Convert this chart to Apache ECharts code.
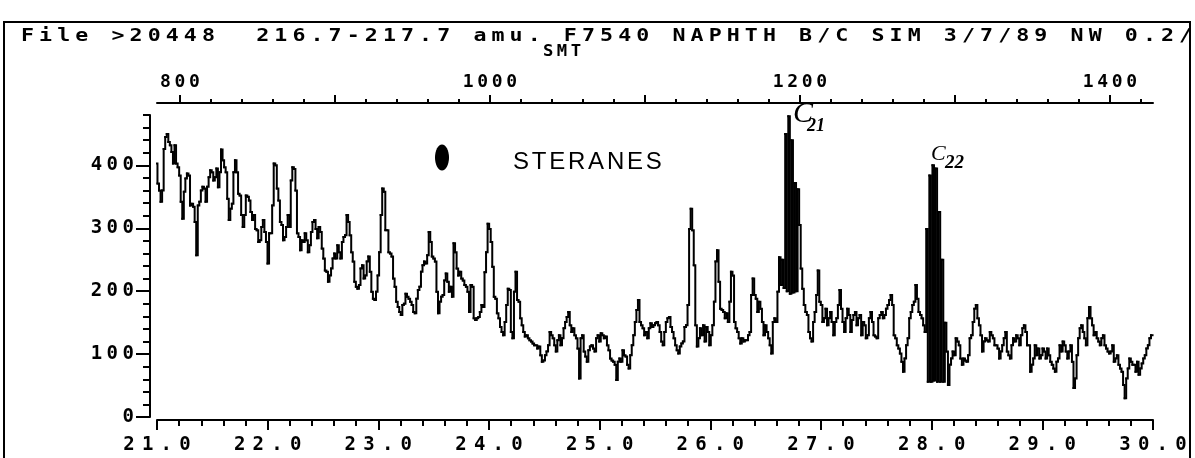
<!DOCTYPE html>
<html><head><meta charset="utf-8">
<script src="https://cdn.jsdelivr.net/npm/echarts@6/dist/echarts.min.js"></script>
<style>html,body{margin:0;padding:0;background:#fff}#c{width:1195px;height:458px}</style>
</head><body><div id="c"></div>
<script>
// ---- texts ----
const headerText = 'File >20448  216.7-217.7 amu. F7540 NAPHTH B/C SIM 3/7/89 NW 0.2/';
const subHeader = 'SMT';
const classLabel = 'STERANES';
const peakC21 = ['C', '21'];
const peakC22 = ['C', '22'];

// ---- axes ----
const timeRange = [21, 30];               // retention time, min
const scanRange = [785.2, 1427.8];        // scan numbers matching the time range
const scanLabels = [800, 1000, 1200, 1400];
const scanMajorTicks = [800, 900, 1000, 1100, 1200, 1300, 1400];
const scanMinorTicks = [820,840,860,880,920,940,960,980,1020,1040,1060,1080,1120,1140,1160,1180,1220,1240,1260,1280,1320,1340,1360,1380,1420];
const yLabels = [0, 100, 200, 300, 400];
const yMinorTicks = [20,40,60,80,120,140,160,180,220,240,260,280,320,340,360,380,420,440,460,480];
const yMax = 480;

// ---- abundance, one value per scan ----
const firstScan = 785;
const scans0785 = [403,371,360,342,360,426,445,450,437,432,
  421,403,432,403,397,384,342,315,358,379,
  387,384,336,339,334,310,257,336,342,360,
  366,363,342,366,381,392,389,376,381,395,
  365,389,425,408,397,389,347,313,331,339,
  389,408,389,355,352,321,302,321,352,350,
  344,326,313,321,299,297,278,281,302,313,
  294,278,244,292,292,336,403,400,363,344,
  310,305,281,286,302,321,302,376,397,394,
  360,292,286,265,281,278,292,281,262,273];
const scans0885 = [294,310,313,299,284,302,294,268,252,233,
  231,215,225,236,252,260,252,273,262,252,
  278,286,289,321,310,289,262,247,215,207,
  204,210,236,241,220,225,247,255,231,199,
  188,186,199,225,262,321,363,358,297,297,
  262,260,255,220,207,183,175,167,162,178,
  180,196,191,188,183,178,167,165,188,202,
  207,231,241,247,244,257,294,278,255,252,
  247,199,165,183,191,194,217,228,215,199,
  207,191,276,262,236,225,231,220,217,210];
const scans0985 = [207,199,167,210,207,157,154,157,159,167,
  178,175,230,262,307,299,278,239,191,188,
  165,157,143,135,130,151,178,204,202,135,
  125,199,231,186,183,157,146,135,128,130,
  125,122,120,117,114,114,109,112,98,88,
  90,98,104,114,135,130,125,114,104,122,
  130,114,125,141,151,159,167,146,135,141,
  130,125,109,61,125,130,104,96,88,106,
  112,114,109,104,125,130,120,133,130,125,
  128,114,106,93,90,88,83,59,88,93];
const scans1085 = [88,106,98,96,83,77,98,114,130,151,
  170,186,151,146,141,130,135,125,141,149,
  143,146,149,151,146,135,120,114,135,151,
  157,159,143,135,125,114,106,101,112,117,
  120,143,146,178,299,331,297,241,146,112,
  125,141,130,146,120,143,135,114,130,146,
  183,247,265,215,172,170,167,157,165,151,
  183,231,225,151,141,135,125,117,125,120,
  122,122,130,135,194,220,194,188,167,183,
  172,151,130,146,135,125,114,101,151,157];
const scans1185 = [151,199,254,210,250,205,450,200,478,196,
  440,198,372,200,362,305,236,204,178,167,
  162,135,125,120,151,167,194,233,183,178,
  151,157,172,146,157,167,151,130,151,157,
  178,202,172,151,135,157,172,162,135,154,
  162,167,146,157,162,130,151,146,125,130,
  157,167,151,130,128,125,157,162,167,157,
  162,172,178,186,194,178,130,125,114,109,
  101,88,72,93,114,125,157,167,178,183,
  210,188,167,162,157,146,135,299,56,384];
const scans1285 = [56,400,58,395,56,326,56,250,56,150,
  104,51,83,93,104,98,125,120,114,93,
  83,93,90,88,98,125,130,151,172,178,
  157,146,130,104,120,125,122,120,135,130,
  125,114,114,109,93,104,114,125,135,104,
  98,93,114,125,120,130,125,114,130,141,
  146,135,114,114,72,83,93,114,98,109,
  93,98,109,104,93,109,98,88,83,77,
  72,88,93,114,104,120,114,104,93,104,
  114,88,46,61,98,125,141,146,135,125];
const scans1385 = [114,157,175,157,146,130,135,125,120,114,
  125,130,114,109,104,101,104,114,88,93,
  98,83,77,72,51,30,61,77,93,88,
  83,83,72,88,67,77,85,93,98,109,
  114,125,130];

const abundance = [].concat(scans0785, scans0885, scans0985, scans1085, scans1185, scans1285, scans1385);
// one item per scan: [scan, value, value of next scan]
const seriesData = abundance.map((v, i) => [firstScan + i, v, i + 1 < abundance.length ? abundance[i + 1] : v]);

// ---- helpers ----
const MONO = 'DejaVu Sans Mono';
function spaced(str) {
  const parts = [];
  for (let i = 0; i < str.length; i++) {
    const ch = str[i] === ' ' ? '\u00a0' : str[i];
    parts.push('{g|' + ch + '}');
    if (i < str.length - 1) parts.push('{s|\u00a0}');
  }
  return parts.join('');
}
function richSet(gSize, sSize, family, weight) {
  const f = family || MONO;
  const w = weight || 'bold';
  return { g: { fontFamily: f, fontSize: gSize, fontWeight: w, color: '#000' }, s: { fontFamily: f, fontSize: sSize, color: '#000' } };
}
const black = '#000';
const gridBox = { left: 157, right: 42, top: 115, bottom: 41, containLabel: false };

// step trace: each scan is a flat run over its own scan width, then a riser to the next scan
function renderStep(params, api) {
  const s = api.value(0), v = api.value(1), vn = api.value(2);
  const x0 = Math.max(s - 0.5, scanRange[0]);
  const x1 = Math.min(s + 0.5, scanRange[1]);
  const p0 = api.coord([x0, v]);
  const p1 = api.coord([x1, v]);
  const p2 = api.coord([x1, vn]);
  return {
    type: 'polyline', silent: true,
    shape: { points: [p0, p1, p2] },
    style: { stroke: black, lineWidth: 2, fill: null, lineJoin: 'miter', lineCap: 'square' }
  };
}

const chart = echarts.init(document.getElementById('c'), null, { renderer: 'canvas' });
chart.setOption({
  animation: false,
  backgroundColor: '#fff',
  grid: [Object.assign({}, gridBox), Object.assign({}, gridBox)],
  xAxis: [
    { // bottom: retention time
      gridIndex: 0, type: 'value', position: 'bottom', offset: 3,
      min: timeRange[0], max: timeRange[1], interval: 1,
      axisLine: { show: true, onZero: false, lineStyle: { color: black, width: 2 } },
      axisTick: { show: true, length: 10, lineStyle: { color: black, width: 2 } },
      minorTick: { show: true, splitNumber: 5, length: 6, lineStyle: { color: black, width: 2 } },
      splitLine: { show: false }, minorSplitLine: { show: false },
      axisLabel: { margin: 16, formatter: v => spaced(v.toFixed(1)), rich: richSet(19, 12) }
    },
    { // top: scan number, long ticks + labels + line
      gridIndex: 0, type: 'value', position: 'top', offset: 12,
      min: scanRange[0], max: scanRange[1],
      axisLine: { show: true, onZero: false, lineStyle: { color: black, width: 2 } },
      axisTick: { show: true, length: 8, customValues: scanMajorTicks, lineStyle: { color: black, width: 2 } },
      splitLine: { show: false },
      axisLabel: { margin: 12, customValues: scanLabels, formatter: v => spaced(String(v)), rich: richSet(18, 6) }
    },
    { // top: scan number, short ticks (second grid, same box)
      gridIndex: 1, type: 'value', position: 'top', offset: 12,
      min: scanRange[0], max: scanRange[1],
      axisLine: { show: false, onZero: false },
      axisTick: { show: true, length: 4, customValues: scanMinorTicks, lineStyle: { color: black, width: 2 } },
      splitLine: { show: false },
      axisLabel: { show: false }
    }
  ],
  yAxis: [
    {
      gridIndex: 0, type: 'value', position: 'left', offset: 7, min: 0, max: yMax,
      axisLine: { show: true, onZero: false, lineStyle: { color: black, width: 2 } },
      axisTick: { show: true, length: 14, customValues: yLabels, lineStyle: { color: black, width: 2 } },
      splitLine: { show: false },
      axisLabel: { margin: 16, customValues: yLabels, formatter: v => spaced(String(v)), rich: richSet(19, 7.5) }
    },
    {
      gridIndex: 1, type: 'value', position: 'left', offset: 7, min: 0, max: yMax,
      axisLine: { show: false, onZero: false },
      axisTick: { show: true, length: 7, customValues: yMinorTicks, lineStyle: { color: black, width: 2 } },
      splitLine: { show: false },
      axisLabel: { show: false }
    }
  ],
  series: [{
    type: 'custom', xAxisIndex: 1, yAxisIndex: 0,
    data: seriesData, encode: { x: 0, y: 1 },
    renderItem: renderStep, silent: true
  }],
  graphic: [
    { type: 'rect', shape: { x: 4, y: 22, width: 1186, height: 445 }, style: { fill: null, stroke: black, lineWidth: 2 }, silent: true },
    { type: 'text', x: 21, y: 36.5, scaleX: 1.2, style: { text: spaced(headerText), rich: richSet(18, 7.05), align: 'left', verticalAlign: 'middle' } },
    { type: 'text', x: 543, y: 52, scaleX: 1.15, style: { text: spaced(subHeader), rich: richSet(15, 5), align: 'left', verticalAlign: 'middle' } },
    { type: 'ellipse', shape: { cx: 442, cy: 157.5, rx: 7, ry: 13 }, style: { fill: black } },
    { type: 'text', x: 513, y: 162.5, style: { text: spaced(classLabel), rich: richSet(24, 10, 'Liberation Sans', 'normal'), align: 'left', verticalAlign: 'middle' } },
    { type: 'text', x: 793, y: 114, style: { text: peakC21[0], font: 'italic 30px "Liberation Serif"', fill: black, verticalAlign: 'middle' } },
    { type: 'text', x: 807, y: 126, style: { text: peakC21[1], font: 'italic bold 18px "Liberation Serif"', fill: black, verticalAlign: 'middle' } },
    { type: 'text', x: 931, y: 154, style: { text: peakC22[0], font: 'italic 22px "Liberation Serif"', fill: black, verticalAlign: 'middle' } },
    { type: 'text', x: 945, y: 163, style: { text: peakC22[1], font: 'italic bold 19px "Liberation Serif"', fill: black, verticalAlign: 'middle' } }
  ]
});
</script></body></html>
